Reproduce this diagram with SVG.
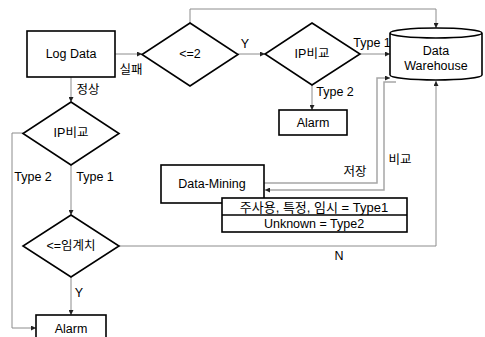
<svg xmlns="http://www.w3.org/2000/svg" width="485" height="337" viewBox="0 0 485 337">
<defs>
<style>
.n{fill:#fff;stroke:#000;stroke-width:1.6}
.c{fill:none;stroke:#8c8c8c;stroke-width:1}
.c2{fill:none;stroke:#a6a6a6;stroke-width:1.5}
text{font-family:"Liberation Sans","Noto Sans CJK KR",sans-serif;font-size:12.5px;fill:#000}
.m{text-anchor:middle;dominant-baseline:central}
</style>
<marker id="a" viewBox="0 0 6 6" refX="6" refY="3" markerWidth="5" markerHeight="5" orient="auto" markerUnits="userSpaceOnUse">
<path d="M0,0 L6,3 L0,6 z" fill="#222"/>
</marker>
</defs>
<rect width="485" height="337" fill="#fff"/>
<g id="connectors">
<path class="c" d="M115 54 H142" marker-end="url(#a)"/>
<path class="c" d="M190 23 V9 H436 V28" marker-end="url(#a)"/>
<path class="c" d="M238 54 H265" marker-end="url(#a)"/>
<path class="c" d="M360 54 H390" marker-end="url(#a)"/>
<path class="c" d="M312 85 V110" marker-end="url(#a)"/>
<path class="c2" d="M264 183 H377 V78 H390" marker-end="url(#a)"/>
<path class="c2" d="M396 82 H384 V190 H265" marker-end="url(#a)"/>
<path class="c" d="M119 246 H436 V81" marker-end="url(#a)"/>
<path class="c" d="M71 77 V102" marker-end="url(#a)"/>
<path class="c" d="M23 133 H12 V328 H36" marker-end="url(#a)"/>
<path class="c" d="M71 165 V215" marker-end="url(#a)"/>
<path class="c" d="M71 277 V315" marker-end="url(#a)"/>
<text x="131" y="70" class="m">실패</text>
<text x="245" y="44" class="m">Y</text>
<text x="372" y="43" class="m">Type 1</text>
<text x="335" y="92" class="m">Type 2</text>
<text x="355" y="172" class="m">저장</text>
<text x="400" y="160" class="m">비교</text>
<text x="339" y="256" class="m">N</text>
<text x="88" y="90" class="m">정상</text>
<text x="33" y="177" class="m">Type 2</text>
<text x="95" y="177" class="m">Type 1</text>
<text x="79" y="293" class="m">Y</text>
</g>
<g id="logdata">
<rect class="n" x="27" y="31" width="88" height="46"/>
<text x="71" y="54" class="m">Log Data</text>
</g>
<g id="le2">
<polygon class="n" points="190,23 238,54.5 190,86 142,54.5"/>
<text x="190" y="54" class="m">&lt;=2</text>
</g>
<g id="ipcompare1">
<polygon class="n" points="312,23 360,54 312,85 265,54"/>
<text x="312" y="54" class="m">IP비교</text>
</g>
<g id="warehouse">
<path class="n" d="M390 33 V75 A46 5 0 0 0 482 75 V33 A46 5 0 0 0 390 33 A46 5 0 0 0 482 33"/>
<text x="436" y="51" class="m">Data</text>
<text x="436" y="66" class="m">Warehouse</text>
</g>
<g id="alarm1">
<rect class="n" x="279" y="110" width="68" height="25"/>
<text x="313" y="123" class="m">Alarm</text>
</g>
<g id="datamining">
<rect class="n" x="161" y="165" width="103" height="38"/>
<text x="212" y="184" class="m">Data-Mining</text>
</g>
<g id="typetable">
<rect class="n" x="222" y="198" width="185" height="34"/>
<line x1="222" y1="215" x2="407" y2="215" stroke="#000" stroke-width="1.6"/>
<text x="314" y="207" class="m" style="font-size:13px">주사용, 특정, 임시 = Type1</text>
<text x="314" y="224" class="m">Unknown = Type2</text>
</g>
<g id="ipcompare2">
<polygon class="n" points="71,102 119,133.5 71,165 23,133.5"/>
<text x="71" y="133" class="m">IP비교</text>
</g>
<g id="threshold">
<polygon class="n" points="71,215 119,246 71,277 23,246"/>
<text x="71" y="246" class="m">&lt;=임계치</text>
</g>
<g id="alarm2">
<rect class="n" x="36" y="315" width="70" height="30"/>
<text x="71" y="329" class="m">Alarm</text>
</g>
</svg>
